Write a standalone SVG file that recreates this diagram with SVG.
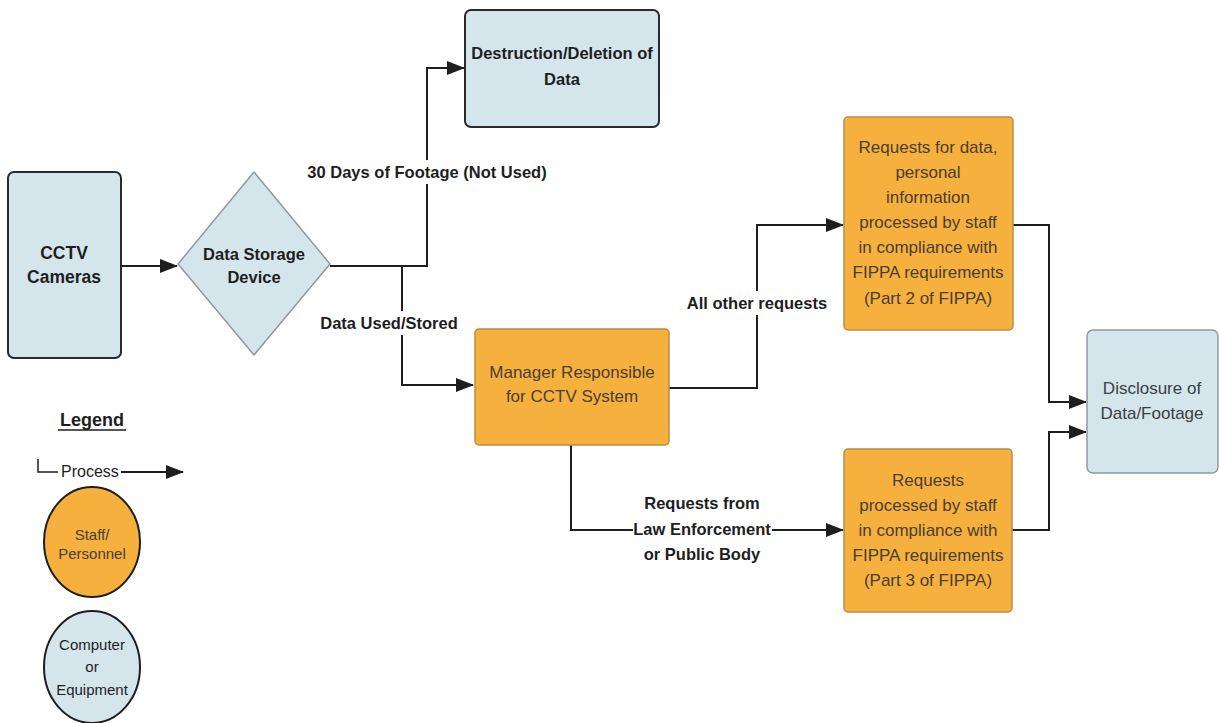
<svg xmlns="http://www.w3.org/2000/svg" width="1219" height="723" viewBox="0 0 1219 723">
<style>
.blue{fill:#d5e5ec;stroke:#2a2a2a;stroke-width:2}
.blue2{fill:#d5e5ec;stroke:#8f9aa0;stroke-width:1.5}
.orange{fill:#f6b03e;stroke:#b98c4c;stroke-width:1.5}
.b{font-family:"Liberation Sans",Arial,sans-serif;font-weight:bold;fill:#1e1e1e;text-anchor:middle}
.o{font-family:"Liberation Sans",Arial,sans-serif;fill:#4a3e30;text-anchor:middle;font-size:17px}
.g{font-family:"Liberation Sans",Arial,sans-serif;fill:#3a3f44;text-anchor:middle;font-size:17px}
.c{fill:none;stroke:#1e1e1e;stroke-width:2}
.bg{fill:#ffffff}
</style>
<defs>
<marker id="ahl" markerWidth="18" markerHeight="14" refX="17" refY="7" orient="auto" markerUnits="userSpaceOnUse"><path d="M0,0 L18,7 L0,14 Z" fill="#1e1e1e"/></marker>
</defs>
<rect width="1219" height="723" fill="#ffffff"/>
<g id="connectors">
<path class="c" d="M121,266 H177" marker-end="url(#ahl)"/>
<path class="c" d="M330,266 H427 V68 H464" marker-end="url(#ahl)"/>
<path class="c" d="M402,266 V385 H473" marker-end="url(#ahl)"/>
<path class="c" d="M669,388 H757 V225 H843" marker-end="url(#ahl)"/>
<path class="c" d="M571,445 V530 H843" marker-end="url(#ahl)"/>
<path class="c" d="M1013,225 H1049 V402 H1086" marker-end="url(#ahl)"/>
<path class="c" d="M1012,530 H1049 V432 H1086" marker-end="url(#ahl)"/>
<rect class="bg" x="305" y="160" width="245" height="24"/>
<text class="b" x="427" y="178" font-size="16.5">30 Days of Footage (Not Used)</text>
<rect class="bg" x="320" y="311" width="140" height="24"/>
<text class="b" x="389" y="329" font-size="16.5">Data Used/Stored</text>
<rect class="bg" x="686" y="291" width="143" height="24"/>
<text class="b" x="757" y="309" font-size="16.5">All other requests</text>
<rect class="bg" x="633" y="518" width="139" height="22"/>
<text class="b" x="702" y="509" font-size="16.5">Requests from</text>
<text class="b" x="702" y="535" font-size="16.5">Law Enforcement</text>
<text class="b" x="702" y="560" font-size="16.5">or Public Body</text>
</g>
<g id="cctv">
<rect class="blue" x="8" y="172" width="113" height="186" rx="6"/>
<text class="b" x="64" y="259" font-size="17.5">CCTV</text>
<text class="b" x="64" y="283" font-size="17.5">Cameras</text>
</g>
<g id="storage">
<path d="M254,172 L330,264 L254,355 L178,264 Z" fill="#d5e5ec" stroke="#8f9aa0" stroke-width="1.5" stroke-linejoin="round"/>
<text class="b" x="254" y="260" font-size="16.5">Data Storage</text>
<text class="b" x="254" y="283" font-size="16.5">Device</text>
</g>
<g id="destruction">
<rect class="blue" x="465" y="10" width="194" height="117" rx="6"/>
<text class="b" x="562" y="59" font-size="16.5">Destruction/Deletion of</text>
<text class="b" x="562" y="85" font-size="16.5">Data</text>
</g>
<g id="manager">
<rect class="orange" x="475" y="329" width="194" height="116" rx="4"/>
<text class="o" x="572" y="378">Manager Responsible</text>
<text class="o" x="572" y="402">for CCTV System</text>
</g>
<g id="part2">
<rect class="orange" x="844" y="117" width="169" height="213" rx="4"/>
<text class="o" x="928" y="153">Requests for data,</text>
<text class="o" x="928" y="178">personal</text>
<text class="o" x="928" y="203">information</text>
<text class="o" x="928" y="228">processed by staff</text>
<text class="o" x="928" y="253">in compliance with</text>
<text class="o" x="928" y="278">FIPPA requirements</text>
<text class="o" x="928" y="304">(Part 2 of FIPPA)</text>
</g>
<g id="part3">
<rect class="orange" x="844" y="449" width="168" height="163" rx="4"/>
<text class="o" x="928" y="486">Requests</text>
<text class="o" x="928" y="511">processed by staff</text>
<text class="o" x="928" y="536">in compliance with</text>
<text class="o" x="928" y="561">FIPPA requirements</text>
<text class="o" x="928" y="586">(Part 3 of FIPPA)</text>
</g>
<g id="disclosure">
<rect class="blue2" x="1087" y="330" width="131" height="143" rx="6"/>
<text class="g" x="1152" y="394">Disclosure of</text>
<text class="g" x="1152" y="419">Data/Footage</text>
</g>
<g id="legend">
<text class="b" x="92" y="426" font-size="18">Legend</text>
<line x1="58" y1="430" x2="126" y2="430" stroke="#1e1e1e" stroke-width="1.5"/>
<path d="M38,459 V472 H58" fill="none" stroke="#1e1e1e" stroke-width="1.5"/>
<path class="c" d="M121,472 H183" marker-end="url(#ahl)"/>
<text x="61" y="477" font-family="Liberation Sans,Arial,sans-serif" font-size="16" fill="#1e1e1e">Process</text>
</g>
<g id="legend-staff">
<ellipse cx="92" cy="542" rx="48" ry="55" fill="#f6b03e" stroke="#1e1e1e" stroke-width="2"/>
<text class="o" x="92" y="540" style="font-size:15px">Staff/</text>
<text class="o" x="92" y="559" style="font-size:15px">Personnel</text>
</g>
<g id="legend-equipment">
<ellipse cx="92" cy="667" rx="48" ry="56" fill="#d5e5ec" stroke="#1e1e1e" stroke-width="2"/>
<text class="g" x="92" y="650" style="font-size:15px;fill:#1e1e1e">Computer</text>
<text class="g" x="92" y="672" style="font-size:15px;fill:#1e1e1e">or</text>
<text class="g" x="92" y="695" style="font-size:15px;fill:#1e1e1e">Equipment</text>
</g>
</svg>
